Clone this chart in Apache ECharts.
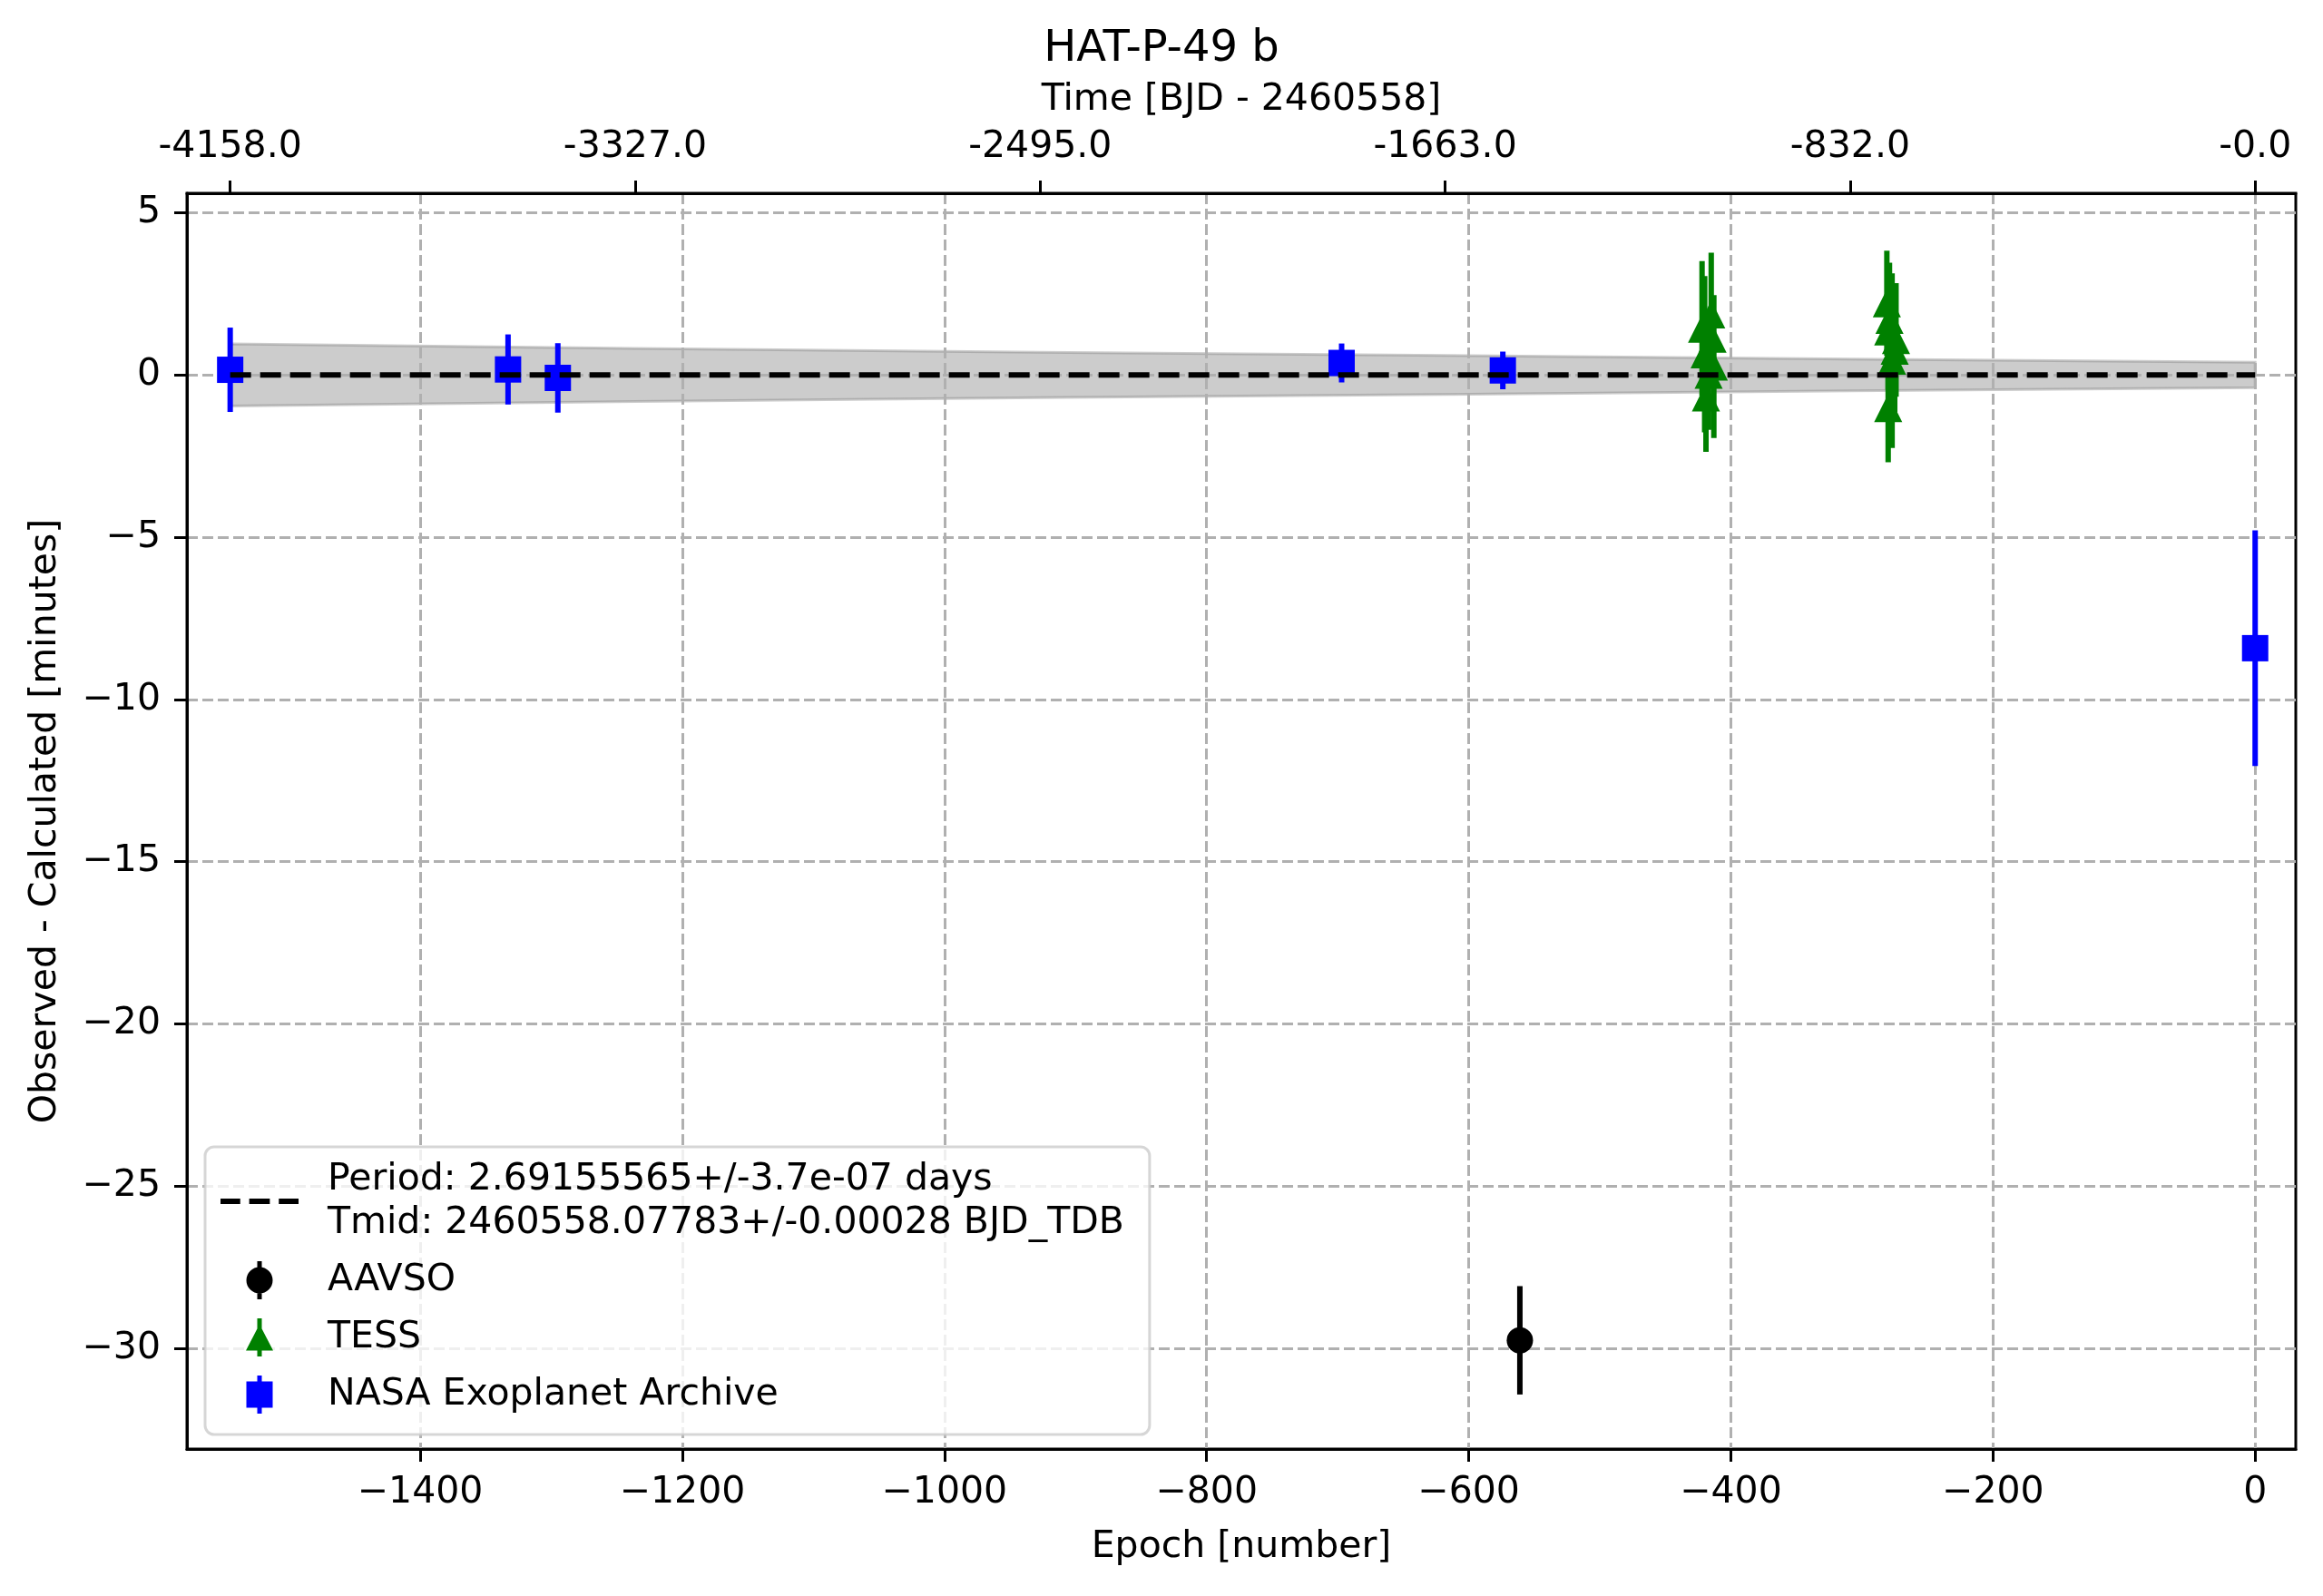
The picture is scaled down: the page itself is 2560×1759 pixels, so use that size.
<!DOCTYPE html>
<html>
<head>
<meta charset="utf-8">
<script src="https://cdn.jsdelivr.net/npm/echarts@6/dist/echarts.min.js"></script>
<style>
html,body{margin:0;padding:0;background:#fff;}
#chart{width:2560px;height:1759px;}
</style>
</head>
<body>
<div id="chart"></div>
<script>
// ---- data ----
const titleText = 'HAT-P-49 b';
const xName = 'Epoch [number]';
const yName = 'Observed - Calculated [minutes]';
const topName = 'Time [BJD - 2460558]';
const periodLabel = 'Period: 2.69155565+/-3.7e-07 days';
const tmidLabel = 'Tmid: 2460558.07783+/-0.00028 BJD_TDB';

const xTicks = [-1400, -1200, -1000, -800, -600, -400, -200, 0];
const yTicks = [-30, -25, -20, -15, -10, -5, 0, 5];
const topTickEpoch = [-1545, -1236, -927, -618, -309, 0];
const topTickLabels = ['-4158.0', '-3327.0', '-2495.0', '-1663.0', '-832.0', '-0.0'];

// model line and its uncertainty band
const modelEpoch = [-1545, 0];
const modelOC = [0, 0];
const bandEpoch = [-1545, -1236, -927, -618, -309, 0];
const bandHalf = [0.96, 0.82, 0.70, 0.60, 0.49, 0.39];

// AAVSO
const aavsoEpoch = [-561];
const aavsoOC = [-29.75];
const aavsoErr = [1.67];

// TESS
const tessEpoch = [-422, -415, -414, -420, -413, -417, -419, -281, -279, -280, -274, -275, -277, -280];
const tessOC    = [1.43, 1.87, 1.12, 0.64, 0.26, 0.01, -0.69, 2.21, 1.70, 1.34, 1.08, 0.75, 0.44, -1.02];
const tessErr   = [2.08, 1.90, 1.20, 2.41, 2.20, 1.70, 1.68, 1.62, 1.76, 1.79, 1.75, 1.90, 2.69, 1.67];

// NASA Exoplanet Archive
const nasaEpoch = [-1545, -1333, -1295, -697, -574, 0];
const nasaOC    = [0.16, 0.17, -0.09, 0.37, 0.14, -8.42];
const nasaErr   = [1.30, 1.08, 1.07, 0.60, 0.58, 3.63];

// ---- chart ----
const FONT = 'DejaVu Sans';
const modelName = periodLabel + '\n' + tmidLabel;
const minus = v => (v < 0 ? '\u2212' + Math.abs(v) : String(v));

function zipErr(e, v, s) { return e.map((x, i) => [x, v[i], s[i]]); }

function errRender(marker, color) {
  return function (params, api) {
    const x = api.value(0), y = api.value(1), e = api.value(2);
    const top = api.coord([x, y + e]);
    const bot = api.coord([x, y - e]);
    const c = api.coord([x, y]);
    const children = [{
      type: 'line', z2: 1,
      shape: { x1: top[0], y1: top[1], x2: bot[0], y2: bot[1] },
      style: { stroke: color, lineWidth: 6 }
    }];
    if (marker === 'circle') {
      children.push({ type: 'circle', z2: 10, shape: { cx: c[0], cy: c[1], r: 14.5 }, style: { fill: color } });
    } else if (marker === 'square') {
      children.push({ type: 'rect', z2: 10, shape: { x: c[0] - 14.5, y: c[1] - 14.5, width: 29, height: 29 }, style: { fill: color } });
    } else {
      const s = 31;
      children.push({ type: 'polygon', z2: 10,
        shape: { points: [[c[0], c[1] - s / 2], [c[0] - s / 2, c[1] + s / 2], [c[0] + s / 2, c[1] + s / 2]] },
        style: { fill: color } });
    }
    return { type: 'group', children };
  };
}

const chart = echarts.init(document.getElementById('chart'), null, { renderer: 'canvas' });

const axisLineStyle = { onZero: false, lineStyle: { color: '#000', width: 3 } };
const tickStyle = { length: 14, lineStyle: { color: '#000', width: 3 } };
const gridLine = { show: true, lineStyle: { color: '#b0b0b0', width: 3, type: [12, 5] } };

const option = {
  backgroundColor: '#ffffff',
  animation: false,
  textStyle: { fontFamily: FONT },
  title: {
    text: titleText, left: 'center', top: 26,
    textStyle: { fontFamily: FONT, fontSize: 48, fontWeight: 'normal', color: '#000' }
  },
  grid: { left: 206, right: 30, top: 213, bottom: 162, show: true, borderColor: '#000', borderWidth: 3, backgroundColor: 'transparent' },
  legend: {
    orient: 'vertical', left: 226, top: 1264,
    itemWidth: 86, itemHeight: 42, itemGap: 15,
    padding: [12, 28, 20, 17],
    backgroundColor: 'rgba(255,255,255,0.8)',
    borderColor: 'rgba(204,204,204,0.8)', borderWidth: 3, borderRadius: 10,
    selectedMode: false,
    textStyle: { fontFamily: FONT, fontSize: 41, color: '#000', lineHeight: 48, padding: [0, 0, 0, 27] },
    data: [
      { name: modelName, icon: 'path://M0,0h22v6h-22z M32,0h23v6h-23z M65,0h22v6h-22z' },
      { name: 'AAVSO', icon: 'path://M13,0h5v8h-5z M13,34h5v8h-5z M1,21a14.5,14.5 0 1,1 29,0a14.5,14.5 0 1,1 -29,0z' },
      { name: 'TESS', icon: 'path://M13,0h5v42h-5z M0.5,35.5L15.5,6.5L30.5,35.5z' },
      { name: 'NASA Exoplanet Archive', icon: 'path://M13,0h5v42h-5z M1,6.5h29v29h-29z' }
    ]
  },
  xAxis: [
    {
      type: 'value', position: 'bottom', min: -1578, max: 31, splitNumber: 8,
      name: xName, nameLocation: 'middle', nameGap: 88,
      nameTextStyle: { fontFamily: FONT, fontSize: 41, color: '#000' },
      axisLine: axisLineStyle,
      axisTick: Object.assign({ customValues: xTicks }, tickStyle),
      axisLabel: { customValues: xTicks, formatter: minus, fontFamily: FONT, fontSize: 41, color: '#000', margin: 28 },
      splitLine: gridLine
    },
    {
      type: 'value', position: 'top', min: -1578, max: 31, splitNumber: 8,
      name: topName, nameLocation: 'middle', nameGap: 82,
      nameTextStyle: { fontFamily: FONT, fontSize: 41, color: '#000' },
      axisLine: axisLineStyle,
      axisTick: Object.assign({ customValues: topTickEpoch }, tickStyle),
      axisLabel: {
        customValues: topTickEpoch,
        formatter: v => { const i = topTickEpoch.indexOf(v); return i >= 0 ? topTickLabels[i] : ''; },
        fontFamily: FONT, fontSize: 41, color: '#000', margin: 30
      },
      splitLine: { show: false }
    }
  ],
  yAxis: {
    type: 'value', min: -33.1, max: 5.6, splitNumber: 8,
    name: yName, nameLocation: 'middle', nameGap: 135, nameRotate: 90,
    nameTextStyle: { fontFamily: FONT, fontSize: 41, color: '#000' },
    axisLine: axisLineStyle,
    axisTick: Object.assign({ customValues: yTicks }, tickStyle),
    axisLabel: { customValues: yTicks, formatter: minus, fontFamily: FONT, fontSize: 41, color: '#000', margin: 29 },
    splitLine: gridLine
  },
  series: [
    {
      name: 'band', type: 'custom', z: -1, silent: true,
      data: [[bandEpoch[0], 0]],
      renderItem: function (params, api) {
        const upper = bandEpoch.map((e, i) => api.coord([e, bandHalf[i]]));
        const lower = bandEpoch.map((e, i) => api.coord([e, -bandHalf[i]])).reverse();
        return {
          type: 'polygon',
          shape: { points: upper.concat(lower) },
          style: { fill: 'rgba(128,128,128,0.4)', stroke: 'rgba(128,128,128,0.4)', lineWidth: 3 }
        };
      }
    },
    {
      name: 'AAVSO', type: 'custom', z: 3,
      itemStyle: { color: '#000000' },
      data: zipErr(aavsoEpoch, aavsoOC, aavsoErr),
      encode: { x: 0, y: 1 },
      renderItem: errRender('circle', '#000000')
    },
    {
      name: 'TESS', type: 'custom', z: 3,
      itemStyle: { color: '#008000' },
      data: zipErr(tessEpoch, tessOC, tessErr),
      encode: { x: 0, y: 1 },
      renderItem: errRender('triangle', '#008000')
    },
    {
      name: 'NASA Exoplanet Archive', type: 'custom', z: 3,
      itemStyle: { color: '#0000ff' },
      data: zipErr(nasaEpoch, nasaOC, nasaErr),
      encode: { x: 0, y: 1 },
      renderItem: errRender('square', '#0000ff')
    },
    {
      name: modelName, type: 'line', z: 5,
      data: modelEpoch.map((e, i) => [e, modelOC[i]]),
      showSymbol: false, symbol: 'none',
      itemStyle: { color: '#000000' },
      lineStyle: { color: '#000000', width: 6, type: [23, 10] }
    }
  ]
};
chart.setOption(option);
</script>
</body>
</html>
